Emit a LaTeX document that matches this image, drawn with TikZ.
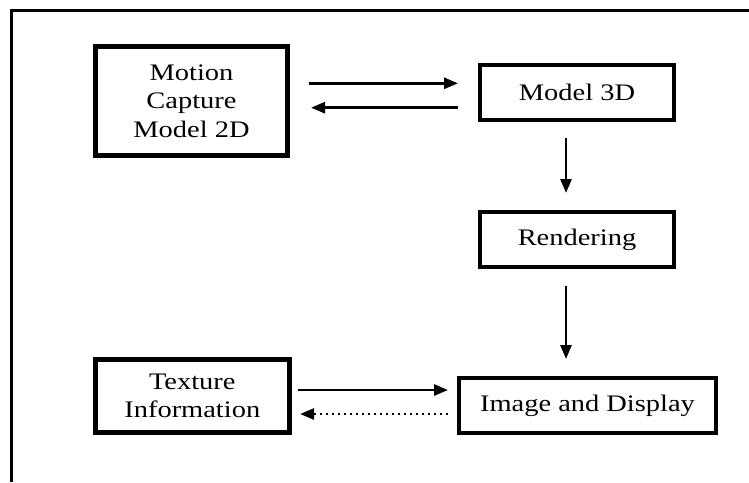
\documentclass[tikz,border=0pt]{standalone}
\usepackage{fontspec}
\setmainfont{Liberation Serif}[FakeStretch=1.2]
\usetikzlibrary{arrows.meta}

\newcommand{\boxfont}{\fontsize{23.7pt}{28.3pt}\selectfont}

\begin{document}
\begin{tikzpicture}[x=1pt,y=-1pt,
  box/.style={draw, line width=4pt, inner sep=0pt, outer sep=0pt,
              align=center, font=\boxfont},
  heavybox/.style={box, line width=5pt},
  arr/.style={line width=2.7pt, -{Triangle[length=14pt,width=11pt]}},
  dotarr/.style={arr, dash pattern=on 2.5pt off 3.5pt}]

  \useasboundingbox (0,0) rectangle (749,482);

  % page frame (top and left edges)
  \draw[line width=3pt] (749,10) -- (11.4,10) -- (11.4,482);

  % blocks
  \node[heavybox, minimum width=192pt, minimum height=109pt] (motion)
    at (191.5,101) {Motion\\Capture\\Model 2D};
  \node[box, minimum width=194pt, minimum height=55pt] (model)
    at (577,92.5) {Model 3D};
  \node[box, minimum width=194pt, minimum height=55pt] (render)
    at (577,239.5) {Rendering};
  \node[box, minimum width=257pt, minimum height=55pt] (image)
    at (587.5,405.5) {Image and Display};
  \node[heavybox, minimum width=193.5pt, minimum height=73pt] (texture)
    at (192.3,396) {Texture\\Information};

  % connectors
  \draw[arr, shorten <=21.5pt, shorten >=22pt]
    (motion.east |- 0,83.3) -- (model.west |- 0,83.3);
  \draw[arr, shorten <=22pt, shorten >=23.5pt]
    (model.west |- 0,107.7) -- (motion.east |- 0,107.7);
  \draw[arr, shorten <=18pt, shorten >=19pt]
    (model.south -| 566,0) -- (render.north -| 566,0);
  \draw[arr, shorten <=19pt, shorten >=19pt]
    (render.south -| 566,0) -- (image.north -| 566,0);
  \draw[arr, shorten <=9pt, shorten >=11pt]
    (texture.east |- 0,390) -- (image.west |- 0,390);
  \draw[dotarr, shorten <=11pt, shorten >=11pt]
    (image.west |- 0,414) -- (texture.east |- 0,414);
\end{tikzpicture}
\end{document}
